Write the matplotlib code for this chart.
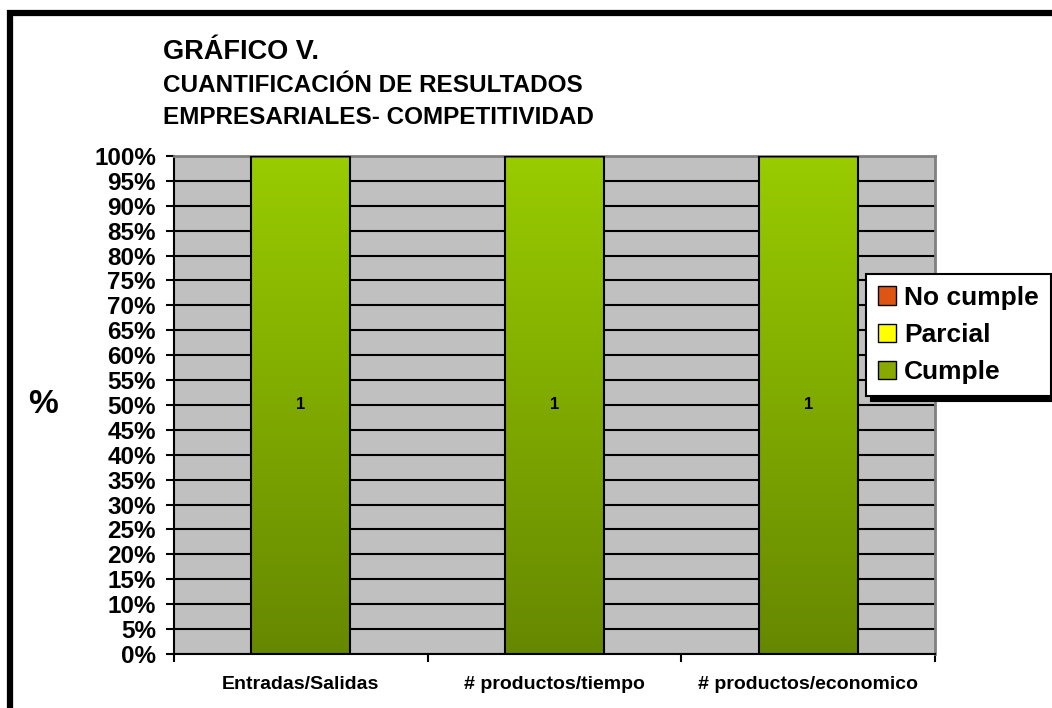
import matplotlib.pyplot as plt
import numpy as np
from matplotlib.colors import LinearSegmentedColormap
from matplotlib.patches import Rectangle, Patch

plt.rcParams['font.family'] = ['Liberation Sans', 'DejaVu Sans']
plt.rcParams['font.weight'] = 'bold'

categorias = ['Entradas/Salidas', '# productos/tiempo', '# productos/economico']
cumple = [1, 1, 1]
parcial = [0, 0, 0]
no_cumple = [0, 0, 0]
y_ticks = list(range(0, 101, 5))

total = np.array(cumple) + np.array(parcial) + np.array(no_cumple)
pct_cumple = np.array(cumple) / total * 100
pct_parcial = np.array(parcial) / total * 100
pct_no = np.array(no_cumple) / total * 100

fig = plt.figure(figsize=(10.52, 7.08), dpi=100)
ax = fig.add_axes([0.1654, 0.0763, 0.7234, 0.7034])
ax.set_facecolor('#C0C0C0')

x = np.arange(len(categorias))
verde = LinearSegmentedColormap.from_list('verde', ['#668800', '#99CC00'])
grad = np.linspace(0, 1, 256).reshape(-1, 1)

bars = ax.bar(x, pct_cumple, width=0.39, facecolor='none', edgecolor='black', linewidth=1.5, zorder=3)
ax.bar(x, pct_parcial, bottom=pct_cumple, width=0.39, color='#FFFF00', edgecolor='black', zorder=3)
ax.bar(x, pct_no, bottom=pct_cumple + pct_parcial, width=0.39, color='#DD5500', edgecolor='black', zorder=3)
for b, v, n in zip(bars, pct_cumple, cumple):
    x0, w, h = b.get_x(), b.get_width(), b.get_height()
    im = ax.imshow(grad, cmap=verde, origin='lower', aspect='auto',
                   extent=[x0, x0 + w, 0, h], zorder=2.5)
    im.set_clip_path(b)
    ax.text(b.get_x() + w / 2, v / 2, str(n), ha='center', va='center',
            fontsize=12, fontweight='bold', zorder=4)

ax.set_xlim(-0.5, 2.5)
ax.set_ylim(0, 100)
ax.set_yticks(y_ticks)
ax.set_yticklabels([f'{t}%' for t in y_ticks], fontsize=17.5, fontweight='bold')
ax.yaxis.grid(True, color='black', linewidth=1.5, zorder=1)
ax.set_axisbelow(True)
ax.tick_params(axis='y', length=6, width=1.5, pad=7)

ax.set_xticks(x)
ax.set_xticklabels(categorias, fontsize=14, fontweight='bold')
ax.tick_params(axis='x', which='major', length=0, pad=15.5)
ax.set_xticks([-0.5, 0.5, 1.5, 2.5], minor=True)
ax.tick_params(axis='x', which='minor', length=6, width=1.5)

ax.spines['left'].set_linewidth(1.5)
ax.spines['bottom'].set_linewidth(1.5)
ax.spines['top'].set_color('#808080')
ax.spines['top'].set_linewidth(2)
ax.spines['right'].set_color('#808080')
ax.spines['right'].set_linewidth(2)

fig.text(0.041, 0.428, '%', fontsize=24, fontweight='bold', ha='center', va='center')
fig.text(0.155, 0.9167, 'GRÁFICO V.', fontsize=19.5, fontweight='bold', ha='left', va='baseline')
fig.text(0.155, 0.8694, 'CUANTIFICACIÓN DE RESULTADOS', fontsize=17.5, fontweight='bold', ha='left', va='baseline')
fig.text(0.155, 0.8242, 'EMPRESARIALES- COMPETITIVIDAD', fontsize=17.5, fontweight='bold', ha='left', va='baseline')

handles = [Patch(facecolor='#DD5511', edgecolor='black', label='No cumple'),
           Patch(facecolor='#FFFF00', edgecolor='black', label='Parcial'),
           Patch(facecolor='#88AA00', edgecolor='black', label='Cumple')]
leg = fig.legend(handles=handles, loc='upper left', bbox_to_anchor=(0.823, 0.613),
                 prop={'size': 19, 'weight': 'bold'}, frameon=True, fancybox=False,
                 shadow={'color': 'black', 'alpha': 1, 'ox': 3.6, 'oy': -3.6},
                 borderpad=0.45, labelspacing=0.5,
                 handlelength=0.7, handleheight=0.7, handletextpad=0.3, borderaxespad=0)
leg.get_frame().set_edgecolor('black')
leg.get_frame().set_linewidth(1.5)

fig.patches.append(Rectangle((0.0095, -0.2), 1.5, 1.1816, transform=fig.transFigure,
                             fill=False, edgecolor='black', linewidth=4.5))

fig.savefig('out.png', dpi=100)
